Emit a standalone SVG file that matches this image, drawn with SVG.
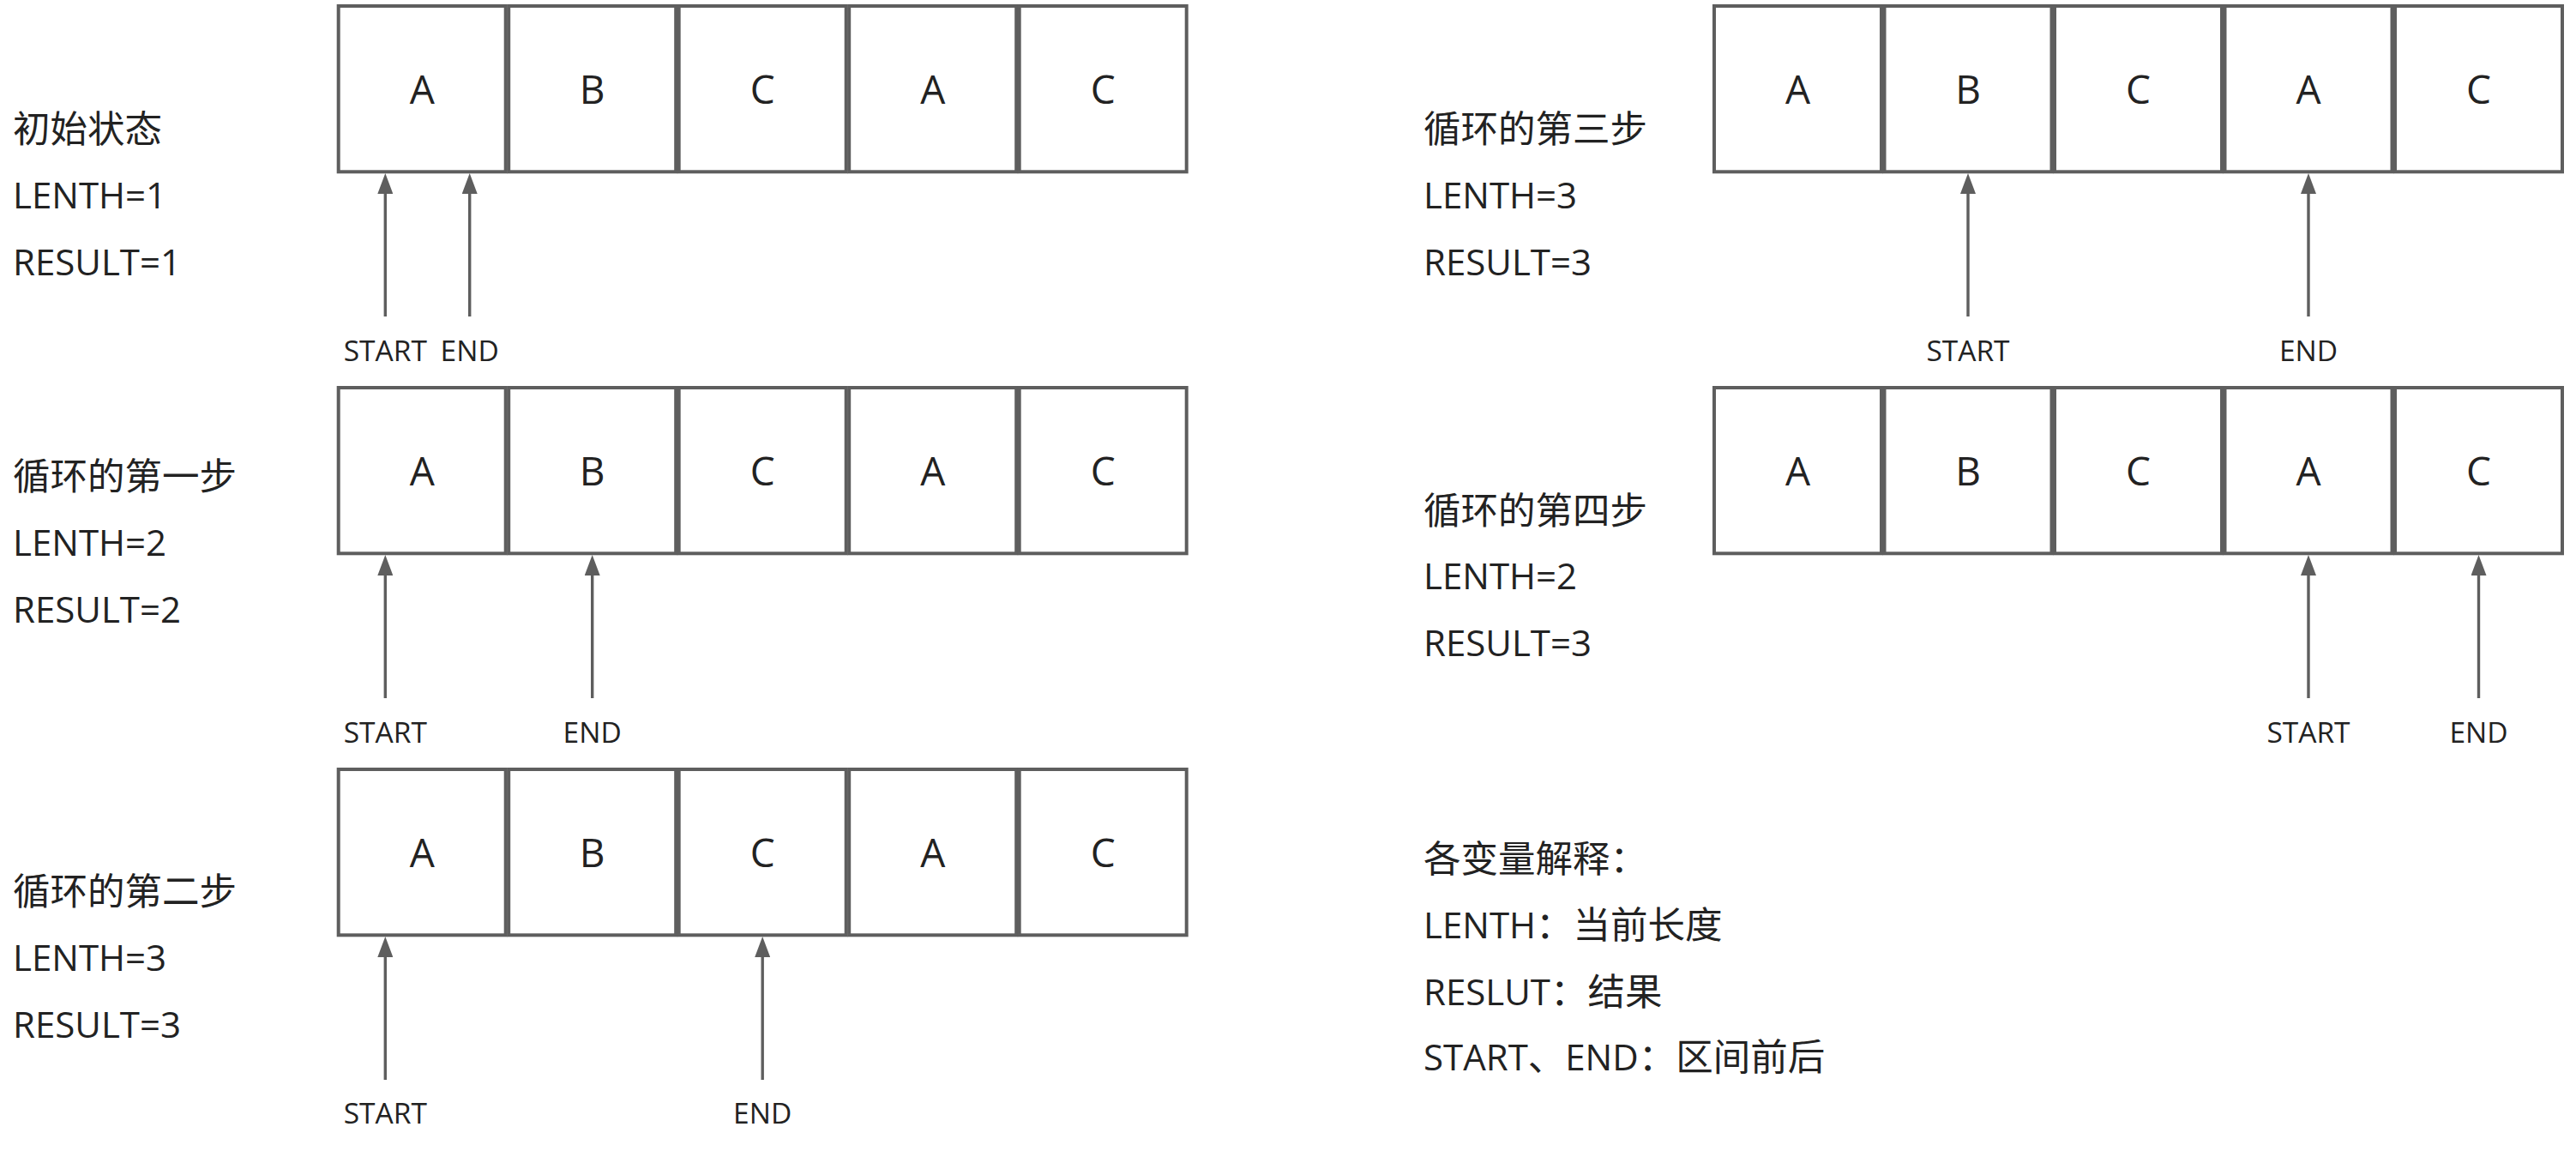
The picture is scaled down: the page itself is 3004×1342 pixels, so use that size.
<svg xmlns="http://www.w3.org/2000/svg" width="3004" height="1342" viewBox="0 0 3004 1342">
<style>
.bg{fill:#ffffff}
.cell rect{fill:#ffffff;stroke:#5e5e5e;stroke-width:4}
.cell text{font-family:"Open Sans","Noto Sans CJK SC",sans-serif;font-size:46px;fill:#222222;text-anchor:middle}
.t{font-family:"Open Sans","Noto Sans CJK SC",sans-serif;font-size:42px;fill:#222222}
.cjk{font-family:"Noto Sans CJK SC",sans-serif;font-size:43.5px}
.ptr{font-family:"Open Sans","Noto Sans CJK SC",sans-serif;font-size:33.5px;fill:#222222;text-anchor:middle}
.arrow{stroke:#5e5e5e;stroke-width:3.4;fill:none;marker-end:url(#head)}
</style>
<defs>
<marker id="head" viewBox="0 0 24 18" refX="1" refY="9" markerWidth="24" markerHeight="18" markerUnits="userSpaceOnUse" orient="auto">
<path d="M0,0 L24,9 L0,18 z" fill="#5e5e5e"/>
</marker>
</defs>
<rect class="bg" x="0" y="0" width="3004" height="1342"/>

<!-- Row L1: initial state -->
<g id="L1">
<g id="L1-c0" class="cell"><rect x="394.7" y="7" width="195" height="193.3"/><text x="492.2" y="121">A</text></g>
<g id="L1-c1" class="cell"><rect x="593.2" y="7" width="195" height="193.3"/><text x="690.7" y="121">B</text></g>
<g id="L1-c2" class="cell"><rect x="791.7" y="7" width="195" height="193.3"/><text x="889.2" y="121">C</text></g>
<g id="L1-c3" class="cell"><rect x="990.2" y="7" width="195" height="193.3"/><text x="1087.7" y="121">A</text></g>
<g id="L1-c4" class="cell"><rect x="1188.7" y="7" width="195" height="193.3"/><text x="1286.2" y="121">C</text></g>
</g>
<g id="L1-label" class="t">
<text x="15" y="165.5" class="cjk">初始状态</text>
<text x="15" y="242.7">LENTH=1</text>
<text x="15" y="320.7">RESULT=1</text>
</g>

<!-- Row L2: step 1 -->
<g id="L2">
<g id="L2-c0" class="cell"><rect x="394.7" y="452" width="195" height="193.3"/><text x="492.2" y="566">A</text></g>
<g id="L2-c1" class="cell"><rect x="593.2" y="452" width="195" height="193.3"/><text x="690.7" y="566">B</text></g>
<g id="L2-c2" class="cell"><rect x="791.7" y="452" width="195" height="193.3"/><text x="889.2" y="566">C</text></g>
<g id="L2-c3" class="cell"><rect x="990.2" y="452" width="195" height="193.3"/><text x="1087.7" y="566">A</text></g>
<g id="L2-c4" class="cell"><rect x="1188.7" y="452" width="195" height="193.3"/><text x="1286.2" y="566">C</text></g>
</g>
<g id="L2-label" class="t">
<text x="15" y="570.5" class="cjk">循环的第一步</text>
<text x="15" y="648">LENTH=2</text>
<text x="15" y="725.7">RESULT=2</text>
</g>

<!-- Row L3: step 2 -->
<g id="L3">
<g id="L3-c0" class="cell"><rect x="394.7" y="897" width="195" height="193.3"/><text x="492.2" y="1011">A</text></g>
<g id="L3-c1" class="cell"><rect x="593.2" y="897" width="195" height="193.3"/><text x="690.7" y="1011">B</text></g>
<g id="L3-c2" class="cell"><rect x="791.7" y="897" width="195" height="193.3"/><text x="889.2" y="1011">C</text></g>
<g id="L3-c3" class="cell"><rect x="990.2" y="897" width="195" height="193.3"/><text x="1087.7" y="1011">A</text></g>
<g id="L3-c4" class="cell"><rect x="1188.7" y="897" width="195" height="193.3"/><text x="1286.2" y="1011">C</text></g>
</g>
<g id="L3-label" class="t">
<text x="15" y="1055" class="cjk">循环的第二步</text>
<text x="15" y="1132.3">LENTH=3</text>
<text x="15" y="1210">RESULT=3</text>
</g>

<!-- Row R1: step 3 -->
<g id="R1">
<g id="R1-c0" class="cell"><rect x="1999" y="7" width="195" height="193.3"/><text x="2096.5" y="121">A</text></g>
<g id="R1-c1" class="cell"><rect x="2197.5" y="7" width="195" height="193.3"/><text x="2295" y="121">B</text></g>
<g id="R1-c2" class="cell"><rect x="2396" y="7" width="195" height="193.3"/><text x="2493.5" y="121">C</text></g>
<g id="R1-c3" class="cell"><rect x="2594.5" y="7" width="195" height="193.3"/><text x="2692" y="121">A</text></g>
<g id="R1-c4" class="cell"><rect x="2793" y="7" width="195" height="193.3"/><text x="2890.5" y="121">C</text></g>
</g>
<g id="R1-label" class="t">
<text x="1660" y="165.5" class="cjk">循环的第三步</text>
<text x="1660" y="242.7">LENTH=3</text>
<text x="1660" y="320.7">RESULT=3</text>
</g>

<!-- Row R2: step 4 -->
<g id="R2">
<g id="R2-c0" class="cell"><rect x="1999" y="452" width="195" height="193.3"/><text x="2096.5" y="566">A</text></g>
<g id="R2-c1" class="cell"><rect x="2197.5" y="452" width="195" height="193.3"/><text x="2295" y="566">B</text></g>
<g id="R2-c2" class="cell"><rect x="2396" y="452" width="195" height="193.3"/><text x="2493.5" y="566">C</text></g>
<g id="R2-c3" class="cell"><rect x="2594.5" y="452" width="195" height="193.3"/><text x="2692" y="566">A</text></g>
<g id="R2-c4" class="cell"><rect x="2793" y="452" width="195" height="193.3"/><text x="2890.5" y="566">C</text></g>
</g>
<g id="R2-label" class="t">
<text x="1660" y="610.5" class="cjk">循环的第四步</text>
<text x="1660" y="687.3">LENTH=2</text>
<text x="1660" y="765">RESULT=3</text>
</g>

<!-- Legend -->
<g id="legend" class="t">
<text x="1660" y="1017" class="cjk">各变量解释：</text>
<text x="1660" y="1094">LENTH<tspan class="cjk">：当前长度</tspan></text>
<text x="1660" y="1171.7">RESLUT<tspan class="cjk">：结果</tspan></text>
<text x="1660" y="1247.7">START<tspan class="cjk">、</tspan>END<tspan class="cjk">：区间前后</tspan></text>
</g>

<!-- Connectors: pointers -->
<g id="connectors">
<line class="arrow" x1="449.3" y1="369" x2="449.3" y2="225"/>
<line class="arrow" x1="547.7" y1="369" x2="547.7" y2="225"/>
<line class="arrow" x1="449.3" y1="814" x2="449.3" y2="670"/>
<line class="arrow" x1="690.7" y1="814" x2="690.7" y2="670"/>
<line class="arrow" x1="449.3" y1="1259" x2="449.3" y2="1115"/>
<line class="arrow" x1="889.2" y1="1259" x2="889.2" y2="1115"/>
<line class="arrow" x1="2295" y1="369" x2="2295" y2="225"/>
<line class="arrow" x1="2692" y1="369" x2="2692" y2="225"/>
<line class="arrow" x1="2692" y1="814" x2="2692" y2="670"/>
<line class="arrow" x1="2890.5" y1="814" x2="2890.5" y2="670"/>
</g>

<!-- Pointer labels -->
<g id="pointer-labels" class="ptr">
<text x="449.3" y="420.7">START</text>
<text x="547.7" y="420.7">END</text>
<text x="449.3" y="866">START</text>
<text x="690.7" y="866">END</text>
<text x="449.3" y="1310">START</text>
<text x="889.2" y="1310">END</text>
<text x="2295" y="420.7">START</text>
<text x="2692" y="420.7">END</text>
<text x="2692" y="866">START</text>
<text x="2890.5" y="866">END</text>
</g>
</svg>
